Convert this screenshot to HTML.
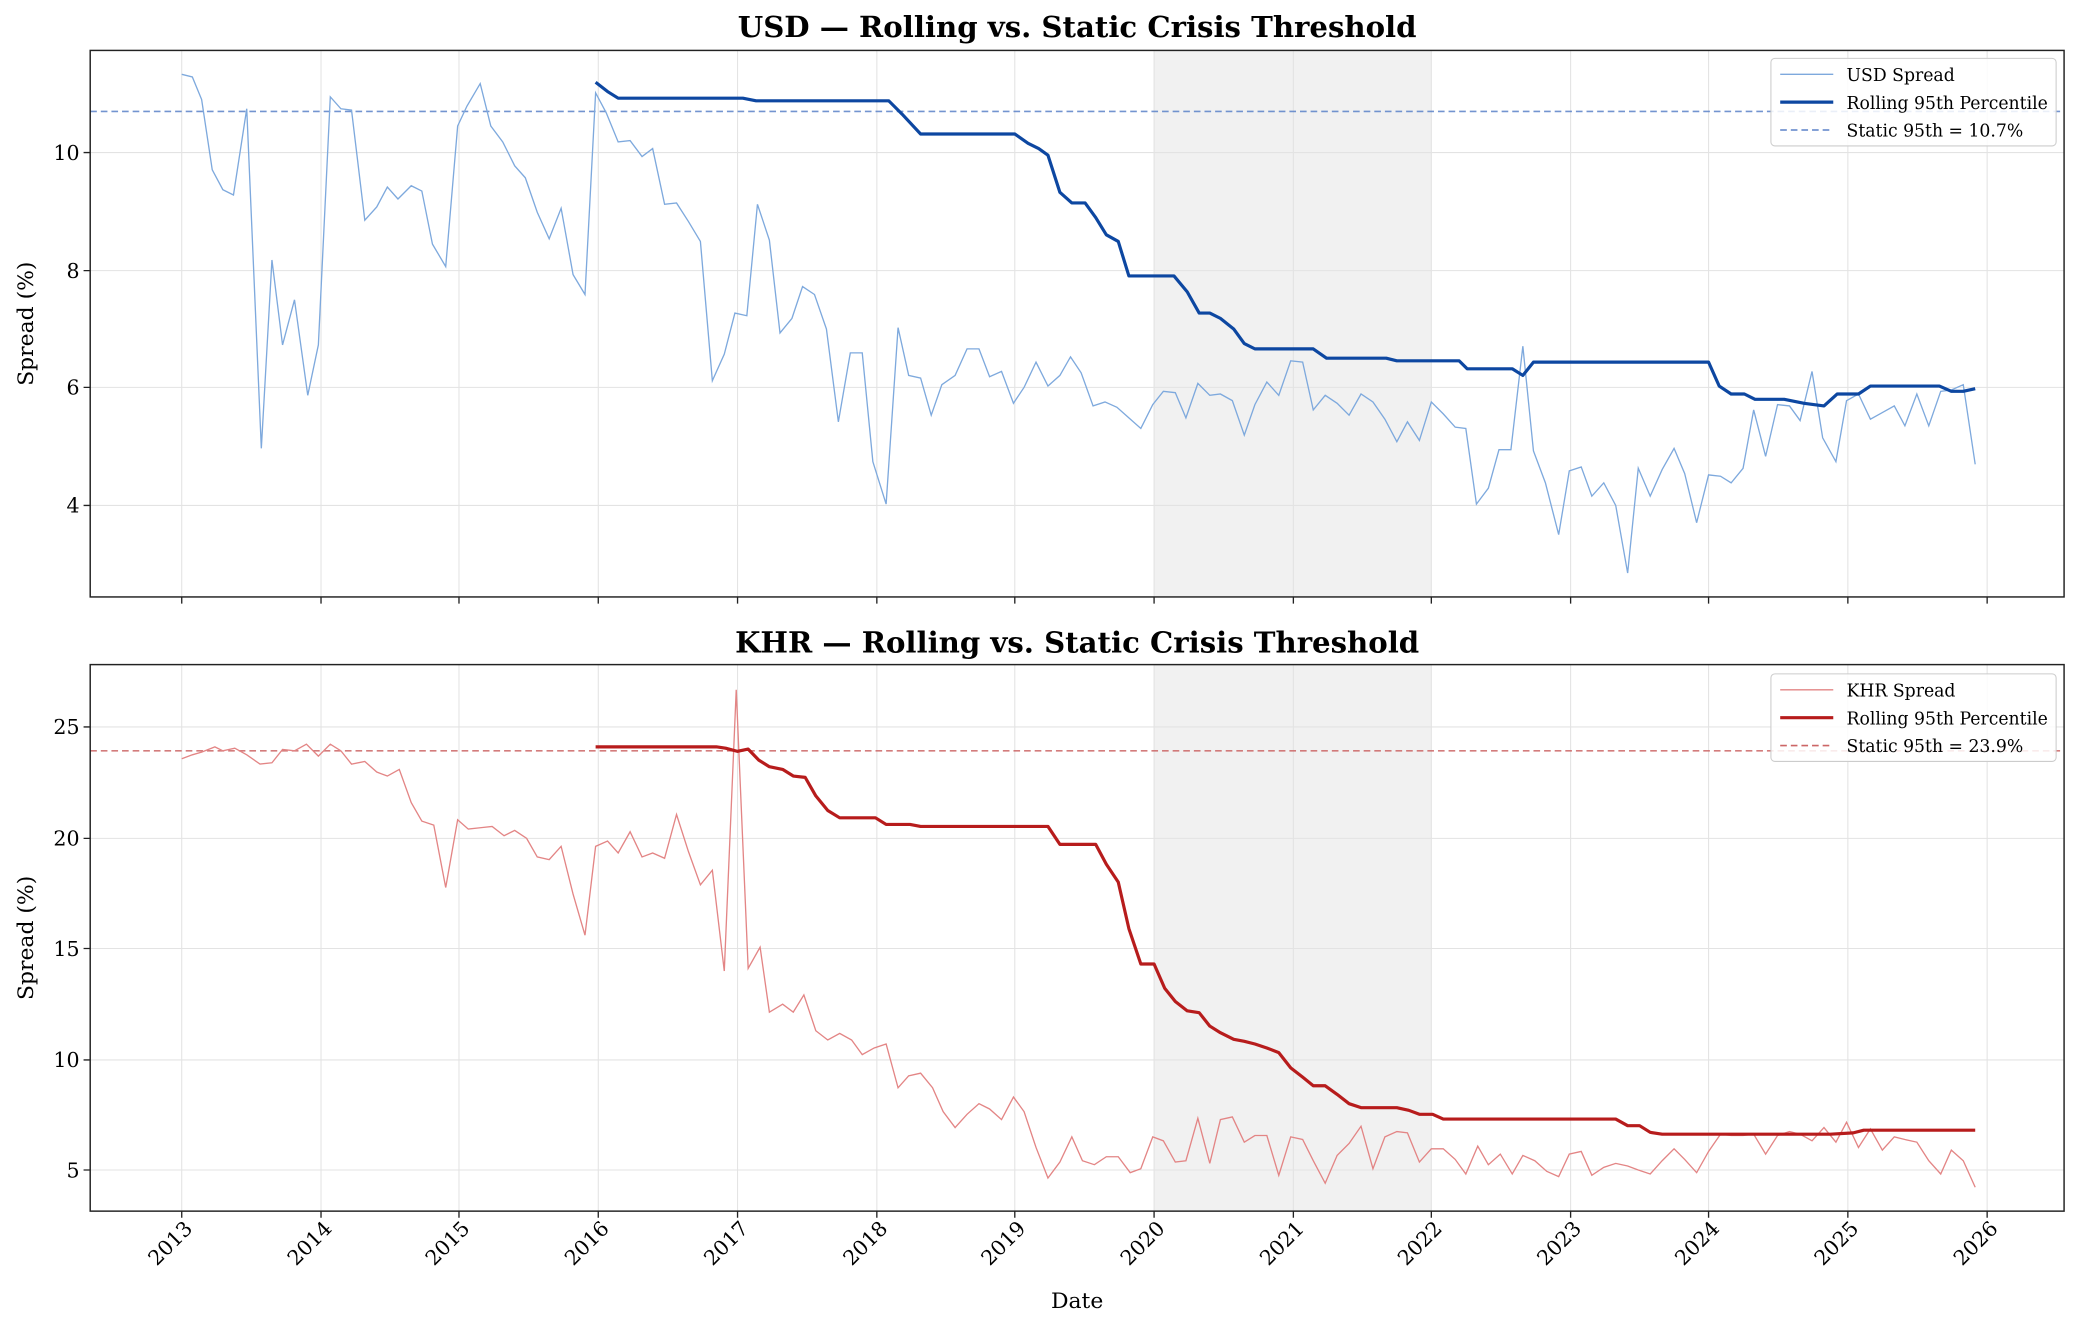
<!DOCTYPE html>
<html><head><meta charset="utf-8"><style>
html,body{margin:0;padding:0;background:#fff;}
svg{display:block;}
text{font-family:"DejaVu Serif","Liberation Serif",serif;fill:#000;}
</style></head><body>
<svg width="2080" height="1330" viewBox="0 0 1568 1002.6" xmlns="http://www.w3.org/2000/svg">
<rect width="1568" height="1003" fill="#fff"/>
<rect x="870" y="38" width="209" height="412" fill="#e8e8e8" opacity="0.6"/>
<rect x="870" y="501" width="209" height="412" fill="#e8e8e8" opacity="0.6"/>
<g stroke="#e3e3e3" stroke-width="0.8">
<path d="M137 38V450M242 38V450M346 38V450M451 38V450M556 38V450M661 38V450M765 38V450M870 38V450M975 38V450M1079 38V450M1184 38V450M1288 38V450M1393 38V450M1498 38V450"/>
<path d="M68 115H1556M68 204H1556M68 292H1556M68 381H1556"/>
<path d="M137 501V913M242 501V913M346 501V913M451 501V913M556 501V913M661 501V913M765 501V913M870 501V913M975 501V913M1079 501V913M1184 501V913M1288 501V913M1393 501V913M1498 501V913"/>
<path d="M68 548H1556M68 632H1556M68 715H1556M68 799H1556M68 882H1556"/>
</g>
<line x1="68" y1="84" x2="1556" y2="84" stroke="#5b82c8" stroke-width="1.2" stroke-dasharray="5,3" opacity="0.85"/>
<line x1="68" y1="566" x2="1556" y2="566" stroke="#cc6666" stroke-width="1.2" stroke-dasharray="5,3" opacity="0.85"/>
<polyline fill="none" stroke="#7ea9dd" stroke-width="1" points="137,56 145,58 152,75 160,128 168,143 176,147 186,82 197,338 205,196 213,260 222,226 232,298 240,260 249,73 257,82 265,83 275,166 284,156 292,141 300,150 310,140 318,144 326,184 336,201 345,95 352,80 362,63 370,95 379,107 388,125 396,134 405,160 414,180 423,157 432,207 441,222 449,70 457,85 466,107 475,106 484,118 492,112 501,154 510,153 519,167 528,182 537,287 546,267 554,236 563,238 571,154 580,181 588,251 597,240 605,216 614,222 623,248 632,318 641,266 650,266 658,348 668,380 677,247 685,283 694,285 702,313 710,290 720,283 729,263 738,263 746,284 755,280 764,304 772,292 781,273 790,291 799,283 807,269 815,281 824,306 833,303 842,307 851,315 860,323 869,305 877,295 886,296 894,315 903,289 912,298 920,297 929,302 938,328 946,305 955,288 964,298 973,272 982,273 990,309 999,298 1008,304 1017,313 1026,297 1035,303 1044,316 1053,333 1061,318 1070,332 1079,303 1088,312 1097,322 1105,323 1113,380 1122,368 1130,339 1139,339 1148,261 1156,340 1165,364 1175,403 1183,355 1192,352 1200,374 1209,364 1218,381 1227,432 1235,353 1244,374 1253,354 1262,338 1270,357 1279,394 1288,358 1297,359 1305,364 1314,353 1322,309 1331,344 1340,305 1349,306 1357,317 1366,280 1374,330 1384,348 1392,302 1401,297 1410,316 1419,311 1428,306 1436,321 1445,297 1454,321 1463,295 1471,294 1480,290 1489,350"/>
<polyline fill="none" stroke="#0d47a1" stroke-width="2.4" stroke-linejoin="round" points="449,62 458,69 466,74 560,74 570,76 670,76 680,86 694,101 765,101 775,108 783,112 790,117 799,145 808,153 818,153 826,164 834,177 843,182 851,208 885,208 895,220 904,236 912,236 920,240 930,248 938,259 946,263 990,263 1000,270 1045,270 1053,272 1100,272 1106,278 1140,278 1148,283 1156,273 1288,273 1296,291 1305,297 1315,297 1323,301 1345,301 1360,304 1375,306 1385,297 1401,297 1410,291 1462,291 1471,295 1480,295 1489,293"/>
<polyline fill="none" stroke="#e38585" stroke-width="1" points="137,572 145,569 152,567 162,563 168,566 177,564 186,569 196,576 205,575 213,565 222,566 231,561 240,570 249,561 257,566 265,576 275,574 284,582 292,585 301,580 310,605 318,619 327,622 336,669 345,618 353,625 362,624 371,623 380,630 388,626 397,632 405,646 414,648 423,638 432,674 441,705 449,638 458,634 466,643 475,627 484,646 492,643 501,647 510,614 519,642 528,667 537,656 546,732 555,520 564,730 573,714 580,763 590,757 598,763 606,750 615,777 624,784 633,779 642,784 650,795 659,790 668,787 677,820 685,811 694,809 703,820 711,838 720,850 729,840 738,832 746,836 755,844 764,827 772,838 781,865 790,888 799,876 808,857 816,875 825,878 834,872 843,872 852,884 860,881 869,857 877,860 886,876 894,875 903,843 912,877 920,844 929,842 938,861 946,856 955,856 964,886 973,857 982,859 990,875 999,892 1008,871 1017,862 1026,849 1035,881 1044,857 1053,853 1061,854 1070,876 1079,866 1088,866 1097,874 1105,885 1114,864 1122,878 1131,870 1140,885 1148,871 1157,875 1166,883 1175,887 1183,870 1192,868 1200,886 1209,880 1218,877 1227,879 1235,882 1244,885 1253,875 1262,866 1270,874 1279,884 1288,868 1297,855 1305,856 1314,856 1322,855 1331,870 1340,856 1349,853 1357,855 1366,860 1375,850 1384,861 1392,846 1401,865 1410,851 1419,867 1428,857 1436,859 1445,861 1454,875 1463,885 1471,867 1480,875 1489,895"/>
<polyline fill="none" stroke="#b71c1c" stroke-width="2.4" stroke-linejoin="round" points="449,563 540,563 547,564 556,566.4 564,564.7 572,573 580,578 590,580 598,585 607,586 615,600 624,611 633,616.5 660,616.5 668,621.5 686,621.5 694,623 790,623 799,636.5 826,636.5 834,651.5 843,665 851,700 860,726.7 870,726.7 878,745 886,755 895,762 904,763.4 912,773.5 920,778.5 930,783.5 938,785 946,787 955,790 964,793.5 973,805 982,812 990,818.5 999,818.5 1008,825 1017,832 1026,835 1053,835 1062,837 1070,840 1080,840 1088,843.6 1218,843.6 1227,848.6 1236,848.6 1244,853.6 1253,855 1380,855 1397,854 1405,852 1489,852"/>
<rect x="68" y="38" width="1488" height="412" fill="none" stroke="#222" stroke-width="1.1"/>
<rect x="68" y="501" width="1488" height="412" fill="none" stroke="#222" stroke-width="1.1"/>
<g stroke="#222" stroke-width="1">
<path d="M137 450v5M242 450v5M346 450v5M451 450v5M556 450v5M661 450v5M765 450v5M870 450v5M975 450v5M1079 450v5M1184 450v5M1288 450v5M1393 450v5M1498 450v5"/>
<path d="M137 913v5M242 913v5M346 913v5M451 913v5M556 913v5M661 913v5M765 913v5M870 913v5M975 913v5M1079 913v5M1184 913v5M1288 913v5M1393 913v5M1498 913v5"/>
<path d="M63 115h5M63 204h5M63 292h5M63 381h5"/>
<path d="M63 548h5M63 632h5M63 715h5M63 799h5M63 882h5"/>
</g>
<g font-size="15.5" text-anchor="end">
<text x="60" y="120.5">10</text><text x="60" y="209.5">8</text><text x="60" y="297.5">6</text><text x="60" y="386.5">4</text>
<text x="60" y="553.5">25</text><text x="60" y="637.5">20</text><text x="60" y="720.5">15</text><text x="60" y="804.5">10</text><text x="60" y="887.5">5</text>
</g>
<g font-size="15.5" text-anchor="end">
<text transform="translate(146,927) rotate(-45)">2013</text>
<text transform="translate(251,927) rotate(-45)">2014</text>
<text transform="translate(355,927) rotate(-45)">2015</text>
<text transform="translate(460,927) rotate(-45)">2016</text>
<text transform="translate(565,927) rotate(-45)">2017</text>
<text transform="translate(670,927) rotate(-45)">2018</text>
<text transform="translate(774,927) rotate(-45)">2019</text>
<text transform="translate(879,927) rotate(-45)">2020</text>
<text transform="translate(984,927) rotate(-45)">2021</text>
<text transform="translate(1088,927) rotate(-45)">2022</text>
<text transform="translate(1193,927) rotate(-45)">2023</text>
<text transform="translate(1297,927) rotate(-45)">2024</text>
<text transform="translate(1402,927) rotate(-45)">2025</text>
<text transform="translate(1507,927) rotate(-45)">2026</text>
</g>
<text x="812" y="986" font-size="16.5" text-anchor="middle">Date</text>
<text transform="translate(25,244) rotate(-90)" font-size="16.5" text-anchor="middle">Spread (%)</text>
<text transform="translate(25,707) rotate(-90)" font-size="16.5" text-anchor="middle">Spread (%)</text>
<text x="812" y="28" font-size="22" font-weight="bold" text-anchor="middle">USD — Rolling vs. Static Crisis Threshold</text>
<text x="812" y="492" font-size="22" font-weight="bold" text-anchor="middle">KHR — Rolling vs. Static Crisis Threshold</text>
<g>
<rect x="1335" y="44" width="215" height="66" rx="3" fill="#fff" fill-opacity="0.85" stroke="#ccc" stroke-width="0.8"/>
<line x1="1342" y1="56" x2="1382" y2="56" stroke="#7ea9dd" stroke-width="1"/>
<line x1="1342" y1="77" x2="1382" y2="77" stroke="#0d47a1" stroke-width="2.4"/>
<line x1="1342" y1="98" x2="1382" y2="98" stroke="#5b82c8" stroke-width="1.2" stroke-dasharray="5,3"/>
<g font-size="13"><text x="1392" y="61">USD Spread</text><text x="1392" y="82">Rolling 95th Percentile</text><text x="1392" y="103">Static 95th = 10.7%</text></g>
</g>
<g>
<rect x="1335" y="508" width="215" height="66" rx="3" fill="#fff" fill-opacity="0.85" stroke="#ccc" stroke-width="0.8"/>
<line x1="1342" y1="520" x2="1382" y2="520" stroke="#e38585" stroke-width="1"/>
<line x1="1342" y1="541" x2="1382" y2="541" stroke="#b71c1c" stroke-width="2.4"/>
<line x1="1342" y1="562" x2="1382" y2="562" stroke="#cc6666" stroke-width="1.2" stroke-dasharray="5,3"/>
<g font-size="13"><text x="1392" y="525">KHR Spread</text><text x="1392" y="546">Rolling 95th Percentile</text><text x="1392" y="567">Static 95th = 23.9%</text></g>
</g>
</svg>
</body></html>
